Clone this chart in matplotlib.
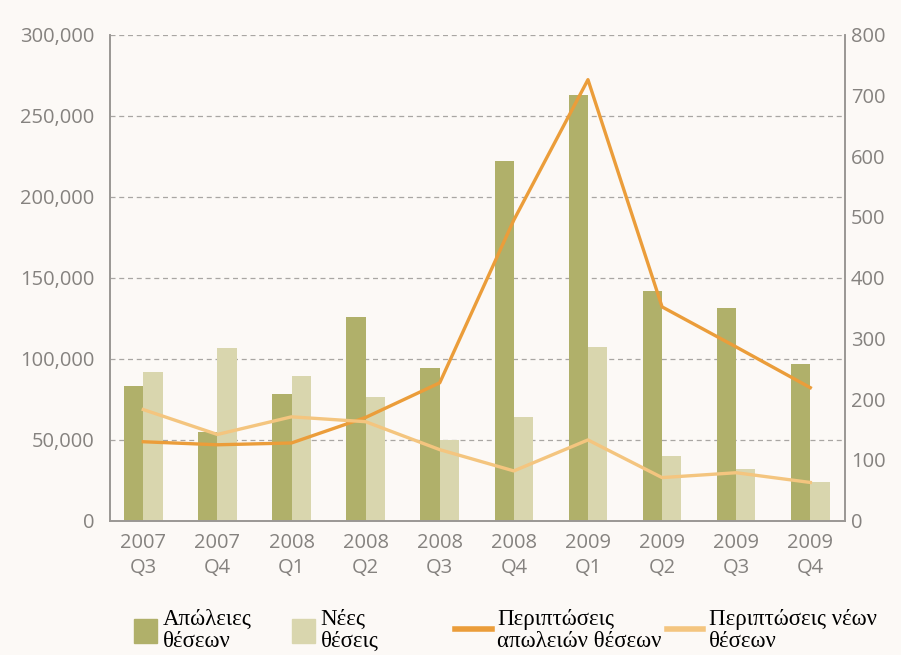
import matplotlib.pyplot as plt
import numpy as np
from matplotlib.patches import Patch
from matplotlib.lines import Line2D
from matplotlib.ticker import FuncFormatter

# data
quarters = ["2007\nQ3", "2007\nQ4", "2008\nQ1", "2008\nQ2", "2008\nQ3",
            "2008\nQ4", "2009\nQ1", "2009\nQ2", "2009\nQ3", "2009\nQ4"]
job_losses = [83000, 55000, 78500, 126000, 94500, 222000, 262500, 142000, 131500, 97000]
new_jobs = [92000, 106500, 89500, 76500, 50000, 64000, 107500, 40000, 32000, 24000]
loss_cases = [130, 125, 128, 170, 227, 495, 726, 352, 286, 219]
new_cases = [183, 142, 171, 163, 117, 82, 133, 71, 79, 63]

labels = ["Απώλειες\nθέσεων", "Νέες\nθέσεις", "Περιπτώσεις\nαπωλειών θέσεων",
          "Περιπτώσεις νέων\nθέσεων"]

c_dark = "#b0b06a"
c_light = "#d9d6ae"
c_orange = "#eb9d3a"
c_lorange = "#f4c57f"
grey = "#85827f"
bg = "#fcf9f6"

fig = plt.figure(figsize=(9.01, 6.55), dpi=100, facecolor=bg)
ax = fig.add_axes([0.122, 0.205, 0.816, 0.742], facecolor=bg)
ax2 = ax.twinx()

x = np.arange(len(quarters))
w = 0.26
ax.bar(x - w / 2, job_losses, w, color=c_dark, zorder=2)
ax.bar(x + w / 2, new_jobs, w, color=c_light, zorder=2)
ax2.plot(x, loss_cases, color=c_orange, lw=2.4, zorder=3)
ax2.plot(x, new_cases, color=c_lorange, lw=2.4, zorder=3)

ax.set_xlim(-0.45, 9.47)
ax.set_ylim(0, 300000)
ax2.set_ylim(0, 800)
ax.set_yticks(np.arange(0, 300001, 50000))
ax2.set_yticks(np.arange(0, 801, 100))
ax.yaxis.set_major_formatter(FuncFormatter(lambda v, p: f"{int(v):,}"))
ax.set_xticks(x)
ax.set_xticklabels(quarters)

ax.yaxis.grid(True, linestyle=(0, (4, 3)), color="#a9a6a3", lw=0.9, zorder=0)
ax.set_axisbelow(True)

for a in (ax, ax2):
    a.tick_params(length=0, colors=grey, labelsize=14.5)
    for s in a.spines.values():
        s.set_color("#9a9794")
        s.set_linewidth(1.2)
    a.spines["top"].set_visible(False)
    for t in a.get_xticklabels() + a.get_yticklabels():
        t.set_family("Open Sans")
ax.tick_params(axis="y", pad=11)
ax.tick_params(axis="x", pad=9)
ax2.tick_params(axis="y", pad=4)
for t in ax.get_xticklabels():
    t.set_linespacing(1.3)

handles = [Patch(color=c_dark), Patch(color=c_light),
           Line2D([], [], color=c_orange, lw=4), Line2D([], [], color=c_lorange, lw=4)]
xs = [0.149, 0.324, 0.505, 0.740]
for i, (h, lab, xp) in enumerate(zip(handles, labels, xs)):
    leg = fig.legend([h], [lab], loc="upper left", bbox_to_anchor=(xp, 0.07),
                     bbox_transform=fig.transFigure, frameon=False,
                     prop={"family": "Liberation Serif", "size": 16.5},
                     handlelength=1.0 if i < 2 else 1.6, handleheight=1.2,
                     handletextpad=0.25, borderpad=0, borderaxespad=0,
                     labelspacing=0)
    for t in leg.get_texts():
        t.set_linespacing(1.05)

fig.savefig("out.png", dpi=100, facecolor=bg)
